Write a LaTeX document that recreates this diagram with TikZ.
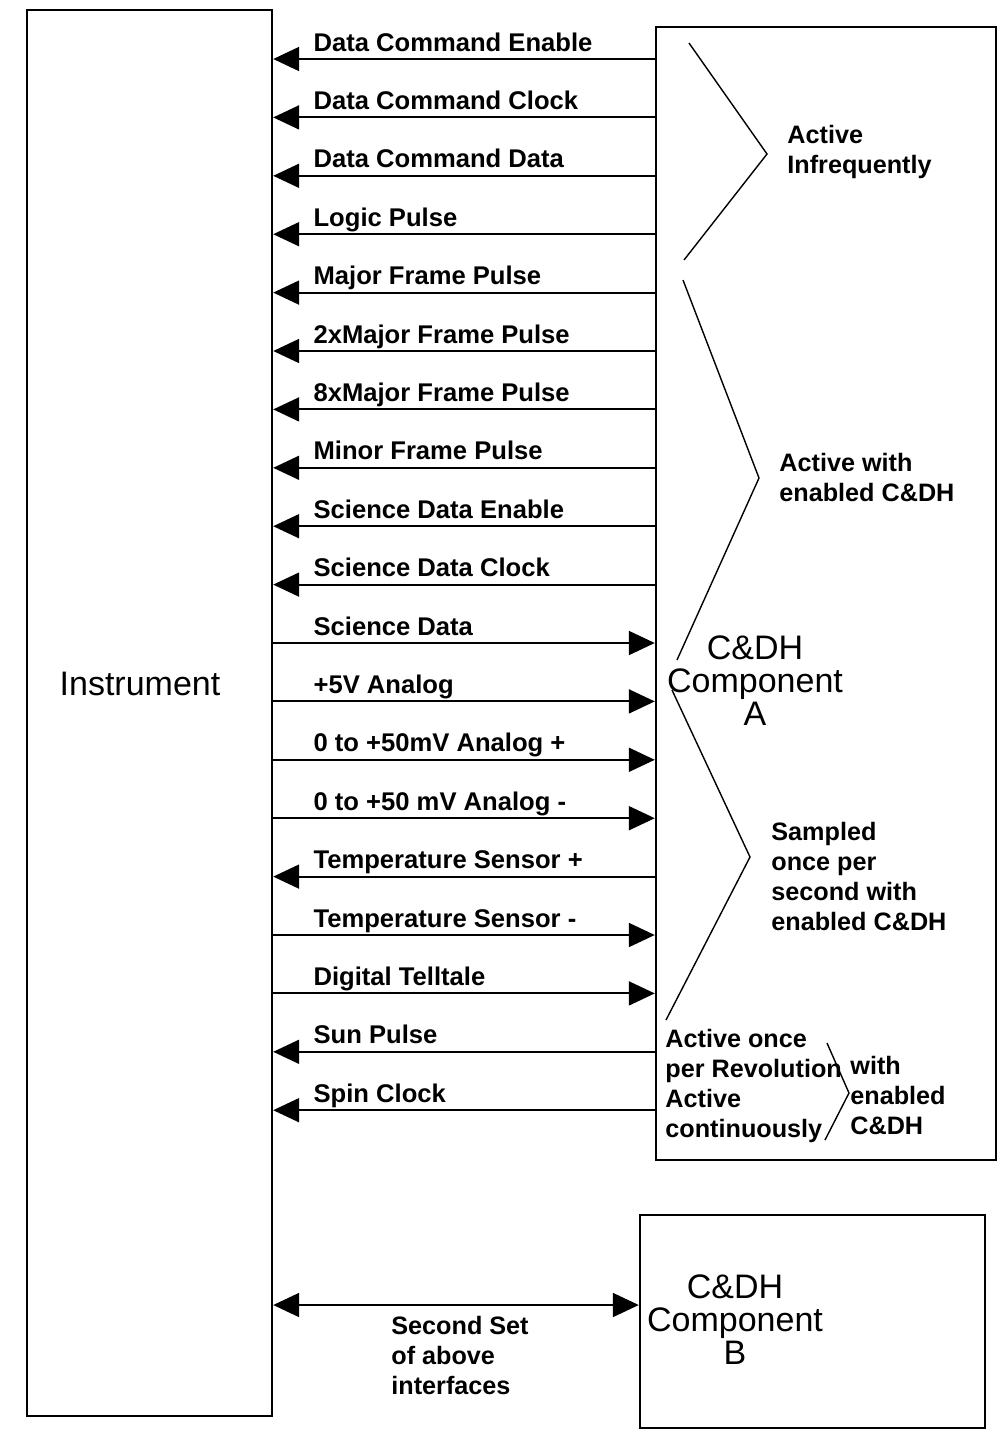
\documentclass[tikz,border=0pt]{standalone}
\usepackage{fontspec}
\setmainfont{Liberation Sans}
\usetikzlibrary{arrows.meta,fit}

\begin{document}
\begin{tikzpicture}[x=0.5pt, y=-0.5pt,
  block/.style={draw, line width=1.2pt, inner sep=0pt},
  sig/.style={line width=1pt},
  toinst/.style={sig, {Triangle[length=13pt,width=12pt]}-},
  tocomp/.style={sig, -{Triangle[length=13pt,width=12pt]}},
  both/.style={sig, {Triangle[length=13pt,width=12pt]}-{Triangle[length=13pt,width=12pt]}},
  siglabel/.style={anchor=base west, inner sep=0pt, font=\fontsize{12.8}{15}\selectfont\bfseries},
  note/.style={anchor=west, align=left, inner sep=0pt, font=\fontsize{12.6}{15}\selectfont\bfseries},
  brace/.style={line width=0.7pt},
  title/.style={align=center, inner sep=0pt, font=\fontsize{17}{16.5}\selectfont}
]
\useasboundingbox (0,0) rectangle (1005,1432);

\node[block, fit={(27,10) (272,1416)}] (inst) {};
\node[block, fit={(656,27) (996,1160)}] (compA) {};
\node[block, fit={(640,1215) (985,1428)}] (compB) {};

\node[title] (instlbl) at (140,684) {Instrument};
\node[title] (compAlbl) at (755,681) {C\&DH\\Component\\A};
\node[title] (compBlbl) at (735,1320) {C\&DH\\Component\\B};

\foreach \i/\dir/\txt in {
  0/toinst/Data Command Enable, 1/toinst/Data Command Clock,
  2/toinst/Data Command Data, 3/toinst/Logic Pulse,
  4/toinst/Major Frame Pulse, 5/toinst/2xMajor Frame Pulse,
  6/toinst/8xMajor Frame Pulse, 7/toinst/Minor Frame Pulse,
  8/toinst/Science Data Enable, 9/toinst/Science Data Clock,
  10/tocomp/Science Data, 11/tocomp/+5V Analog,
  12/tocomp/0 to +50mV Analog +, 13/tocomp/0 to +50 mV Analog -,
  14/toinst/Temperature Sensor +, 15/tocomp/Temperature Sensor -,
  16/tocomp/Digital Telltale, 17/toinst/Sun Pulse,
  18/toinst/Spin Clock} {
  \coordinate (r\i) at (0,{59+58.4*\i});
  \draw[\dir] (inst.east |- r\i) -- (compA.west |- r\i);
  \node[siglabel] (s\i) at ([xshift=20pt,yshift=4pt]inst.east |- r\i) {\txt};
}

\coordinate (rB) at (0,1305);
\draw[both] (inst.east |- rB) -- (compB.west |- rB);
\node[note] (second) at (391,1355) {Second Set\\of above\\interfaces};

\draw[brace] (689,43) -- (767,154) -- (684,260);
\draw[brace] (683,280) -- (759,478) -- (677,660);
\draw[brace] (672,690) -- (750,857) -- (666,1020);
\draw[brace] (827,1043) -- (849,1093) -- (825,1140);

\node[note] (infreq) at (787,152) {Active\\Infrequently};
\node[note] (enabled) at (779,477) {Active with\\enabled C\&DH};
\node[note] (sampled) at (771,876) {Sampled\\once per\\second with\\enabled C\&DH};
\node[note] (spin) at (665,1086) {Active once\\per Revolution\\Active\\continuously};
\node[note] (spinen) at (850,1095) {with\\enabled\\C\&DH};

\end{tikzpicture}
\end{document}
